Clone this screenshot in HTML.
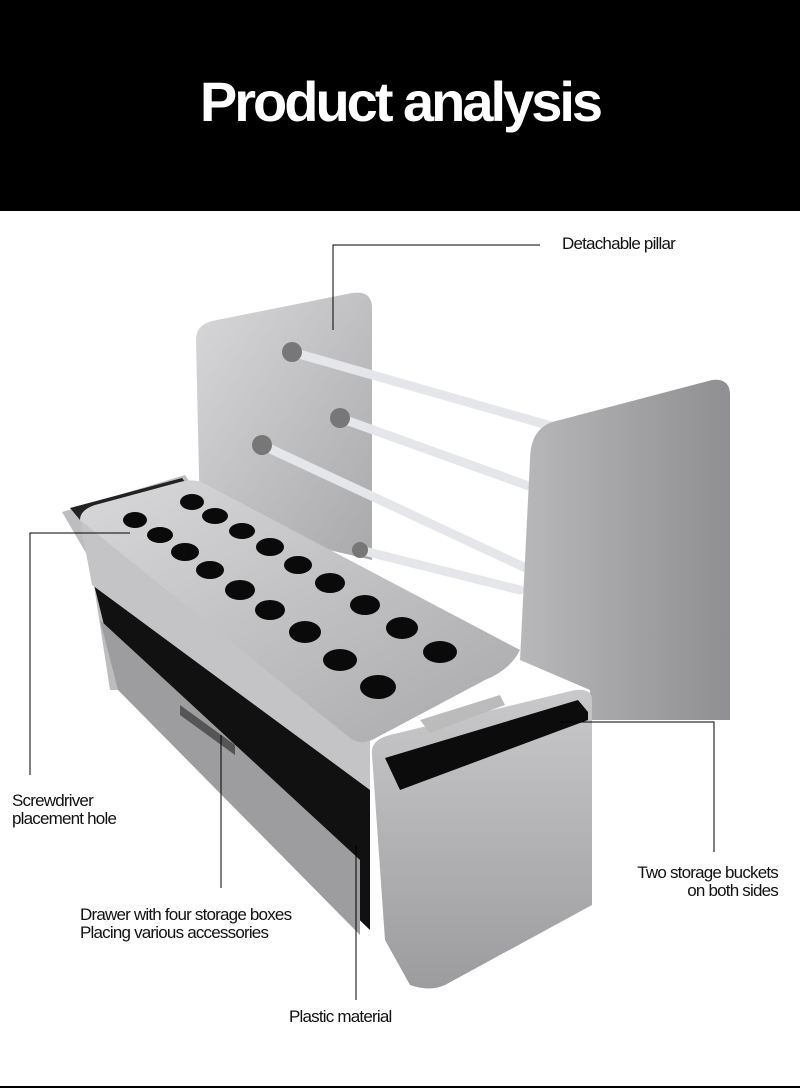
<!DOCTYPE html>
<html><head><meta charset="utf-8"><style>
html,body{margin:0;padding:0;background:#fff;}
body{width:800px;height:1089px;overflow:hidden;position:relative;font-family:"Liberation Sans",sans-serif;}
.hdr{position:absolute;left:0;top:0;width:800px;height:211px;background:#000;color:#fff;font-weight:bold;font-size:56px;text-align:center;line-height:204px;letter-spacing:-3px;}
.t{position:absolute;font-size:17px;color:#111;letter-spacing:-0.8px;line-height:18px;white-space:nowrap;}
</style></head><body>
<div class="hdr">Product analysis</div>
<svg width="800" height="1089" style="position:absolute;left:0;top:0">
<defs>
<linearGradient id="g1" x1="0" y1="0" x2="1" y2="1"><stop offset="0" stop-color="#d8d8da"/><stop offset="1" stop-color="#a9a9ac"/></linearGradient>
<linearGradient id="g2" x1="0" y1="0" x2="1" y2="0"><stop offset="0" stop-color="#b8b8ba"/><stop offset="1" stop-color="#8f8f92"/></linearGradient>
<linearGradient id="g3" x1="0" y1="0" x2="0" y2="1"><stop offset="0" stop-color="#c9c9cb"/><stop offset="1" stop-color="#9c9c9f"/></linearGradient>
</defs>
<path d="M196,340 Q196,325 212,321 L352,293 Q372,290 372,308 L372,560 L200,520 Z" fill="url(#g1)"/>
<g stroke="#e4e6ea" stroke-width="9" stroke-linecap="round">
<line x1="292" y1="352" x2="565" y2="430"/>
<line x1="340" y1="418" x2="540" y2="490"/>
<line x1="262" y1="445" x2="530" y2="570"/>
<line x1="360" y1="550" x2="520" y2="590"/>
</g>
<g fill="#777"><circle cx="292" cy="352" r="10"/><circle cx="340" cy="418" r="10"/><circle cx="262" cy="445" r="10"/><circle cx="360" cy="550" r="8"/></g>
<path d="M530,460 Q530,425 560,420 L712,380 Q730,378 730,395 L730,720 L590,720 L590,690 L520,660 Z" fill="url(#g2)"/>
<path d="M62,512 L185,475 L195,490 L195,690 L110,690 L90,560 Z" fill="#bdbdc0"/>
<path d="M70,508 L182,478 L190,488 L80,520 Z" fill="#222"/>
<path d="M88,560 L370,770 L370,930 L120,690 Z" fill="#111"/>
<path d="M100,620 L360,860 L360,935 L118,690 Z" fill="#9d9da0"/>
<path d="M180,705 L235,745 L235,755 L180,715 Z" fill="#555"/>
<path d="M80,520 L370,738 L370,790 L92,585 Z" fill="#c4c4c6"/>
<path d="M80,520 Q80,510 95,505 L180,482 Q195,478 205,484 L520,650 Q510,670 485,680 L372,740 Q360,745 350,738 Z" fill="url(#g1)"/>
<g fill="#0a0a0a">
<ellipse cx="135" cy="520" rx="12" ry="8"/><ellipse cx="192" cy="502" rx="12" ry="8"/>
<ellipse cx="160" cy="535" rx="13" ry="8"/><ellipse cx="215" cy="516" rx="13" ry="8"/>
<ellipse cx="185" cy="552" rx="14" ry="9"/><ellipse cx="242" cy="531" rx="13" ry="8"/>
<ellipse cx="210" cy="570" rx="14" ry="9"/><ellipse cx="270" cy="547" rx="14" ry="9"/>
<ellipse cx="240" cy="590" rx="15" ry="10"/><ellipse cx="298" cy="565" rx="14" ry="9"/>
<ellipse cx="270" cy="610" rx="15" ry="10"/><ellipse cx="330" cy="583" rx="15" ry="10"/>
<ellipse cx="305" cy="632" rx="16" ry="11"/><ellipse cx="365" cy="605" rx="15" ry="10"/>
<ellipse cx="340" cy="660" rx="17" ry="11"/><ellipse cx="402" cy="628" rx="16" ry="11"/>
<ellipse cx="378" cy="687" rx="18" ry="12"/><ellipse cx="440" cy="652" rx="17" ry="11"/>
</g>
<path d="M372,755 Q370,740 390,735 L575,690 Q592,688 592,700 L592,905 L445,985 Q430,992 410,985 L385,940 Z" fill="url(#g3)"/>
<path d="M385,758 L578,700 L588,712 L588,720 L400,790 Z" fill="#0c0c0c"/>
<path d="M420,720 L500,695 L505,705 L430,733 Z" fill="#bbb"/>
<g stroke="#000" stroke-width="1" fill="none">
<polyline points="333,330 333,245 540,245"/>
<polyline points="130,533 30,533 30,775"/>
<line x1="221" y1="735" x2="221" y2="888"/>
<line x1="356" y1="845" x2="356" y2="1000"/>
<polyline points="560,722 714,722 714,852"/>
</g>
<line x1="0" y1="1087" x2="800" y2="1087" stroke="#000" stroke-width="2"/>
</svg>
<div class="t" style="left:562px;top:235px;">Detachable pillar</div>
<div class="t" style="left:12px;top:792px;">Screwdriver<br>placement hole</div>
<div class="t" style="left:80px;top:906px;">Drawer with four storage boxes<br>Placing various accessories</div>
<div class="t" style="left:289px;top:1008px;">Plastic material</div>
<div class="t" style="left:560px;top:864px;width:218px;text-align:right;">Two storage buckets<br>on both sides</div>
</body></html>
